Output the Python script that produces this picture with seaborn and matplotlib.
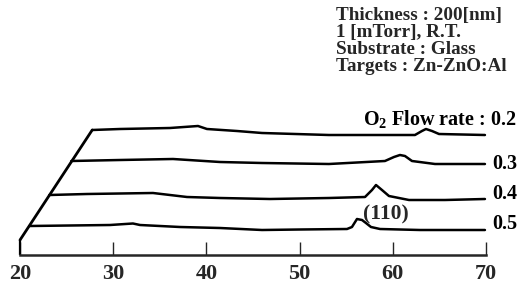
import matplotlib
matplotlib.use("Agg")
import matplotlib.pyplot as plt
import numpy as np
import pandas as pd
import seaborn as sns

# O2 flow rates, front (bottom) trace first
flow_rates = ["0.5", "0.4", "0.3", "0.2"]

# 2theta [deg] and intensity [a.u.]
two_theta_05 = [20.0, 24.36, 28.66, 31.12, 31.88, 36.17, 40.46, 44.97, 49.04,
                54.09, 54.62, 55.16, 55.70, 56.12, 56.66, 57.63, 61.92, 68.89]
intensity_05 = [5, 5.5, 6, 7.5, 6, 4, 3, 1, 1.5, 2, 4, 12, 11, 8, 4, 2, 1, 1]

two_theta_04 = [19.9, 23.94, 31.02, 34.67, 38.21, 43.57, 49.90, 53.77, 54.52,
                54.95, 55.59, 56.34, 58.49, 62.35, 66.64]
intensity_04 = [8, 9, 10, 6, 5, 4, 5, 6, 13, 18, 13, 7, 3, 3, 4]

two_theta_03 = [20.0, 25.23, 30.92, 35.96, 40.47, 47.65, 53.66, 54.63, 55.27,
                55.81, 56.56, 59.03, 64.39]
intensity_03 = [6, 7, 8, 5, 4, 3, 6, 10, 12, 11, 6, 3, 3]

two_theta_02 = [20.0, 22.98, 28.34, 31.35, 32.31, 35.53, 38.22, 45.40, 54.63,
                55.38, 55.81, 56.46, 57.21, 62.14]
intensity_02 = [9, 10, 11, 13, 10, 8, 6, 4, 4, 8, 10, 8, 5, 4]

x_ticks = [20, 30, 40, 50, 60, 70]

header_lines = ["Thickness : 200[nm]", "1 [mTorr], R.T.",
                "Substrate : Glass", "Targets : Zn-ZnO:Al"]

# pseudo-3D layout: each trace is pushed right and up
X_SHIFT = [1.0, 3.25, 5.5, 7.75]
Y_SHIFT = [24, 52, 88, 116]

sns.set_style("white")
plt.rcParams["font.family"] = ["Liberation Serif", "DejaVu Serif"]
plt.rcParams["font.weight"] = "bold"
plt.rcParams["mathtext.fontset"] = "custom"
plt.rcParams["mathtext.rm"] = "Liberation Serif:bold"
plt.rcParams["mathtext.bf"] = "Liberation Serif:bold"

fig = plt.figure(figsize=(5.17, 2.86), dpi=100)
ax = fig.add_axes([0, 0, 1, 1])

traces = [(two_theta_05, intensity_05), (two_theta_04, intensity_04),
          (two_theta_03, intensity_03), (two_theta_02, intensity_02)]

for (tt, inten), dx, dy in zip(traces, X_SHIFT, Y_SHIFT):
    df = pd.DataFrame({"x": np.array(tt) + dx, "y": np.array(inten) + dy})
    sns.lineplot(data=df, x="x", y="y", ax=ax, color="black", lw=1.8,
                 sort=False, estimator=None)

# frame: left edge and oblique depth line
ax.plot([20, 20], [0, 15], color="black", lw=1.6, solid_capstyle="butt")
ax.plot([20, 20 + X_SHIFT[-1]], [15, Y_SHIFT[-1] + intensity_02[0]],
        color="black", lw=2.0)

ax.set_xlim(17.854, 73.33)
ax.set_ylim(-31, 255)
for side in ["top", "right", "left"]:
    ax.spines[side].set_visible(False)
ax.spines["bottom"].set_position(("data", 0))
ax.spines["bottom"].set_bounds(20, 70)
ax.spines["bottom"].set_linewidth(1.8)
ax.set_xticks(x_ticks)
ax.set_xticklabels([str(t) for t in x_ticks])
ax.tick_params(axis="x", direction="in", length=9.5, width=1.0, pad=6.5,
               labelsize=16, bottom=True)
ax.set_yticks([])
ax.set_xlabel("")
ax.set_ylabel("")

txt = dict(fontsize=14.5, fontweight="bold", color="black")
fig.text(336 / 517, 1 - 7 / 286, "\n".join(header_lines), va="top", ha="left",
         linespacing=1.0, fontsize=13.8, fontweight="bold")

label_y = [224, 194, 164, 120]
for name, py in zip(flow_rates, label_y):
    s = name if name != "0.2" else r"O$_2$ Flow rate : 0.2"
    fig.text(517 / 517, 1 - py / 286, s, ha="right", va="center", **txt)

fig.text(386 / 517, 1 - 214 / 286, "(110)", ha="center", va="center",
         fontsize=15.5, fontweight="bold")

fig.savefig("out.png", dpi=100)
